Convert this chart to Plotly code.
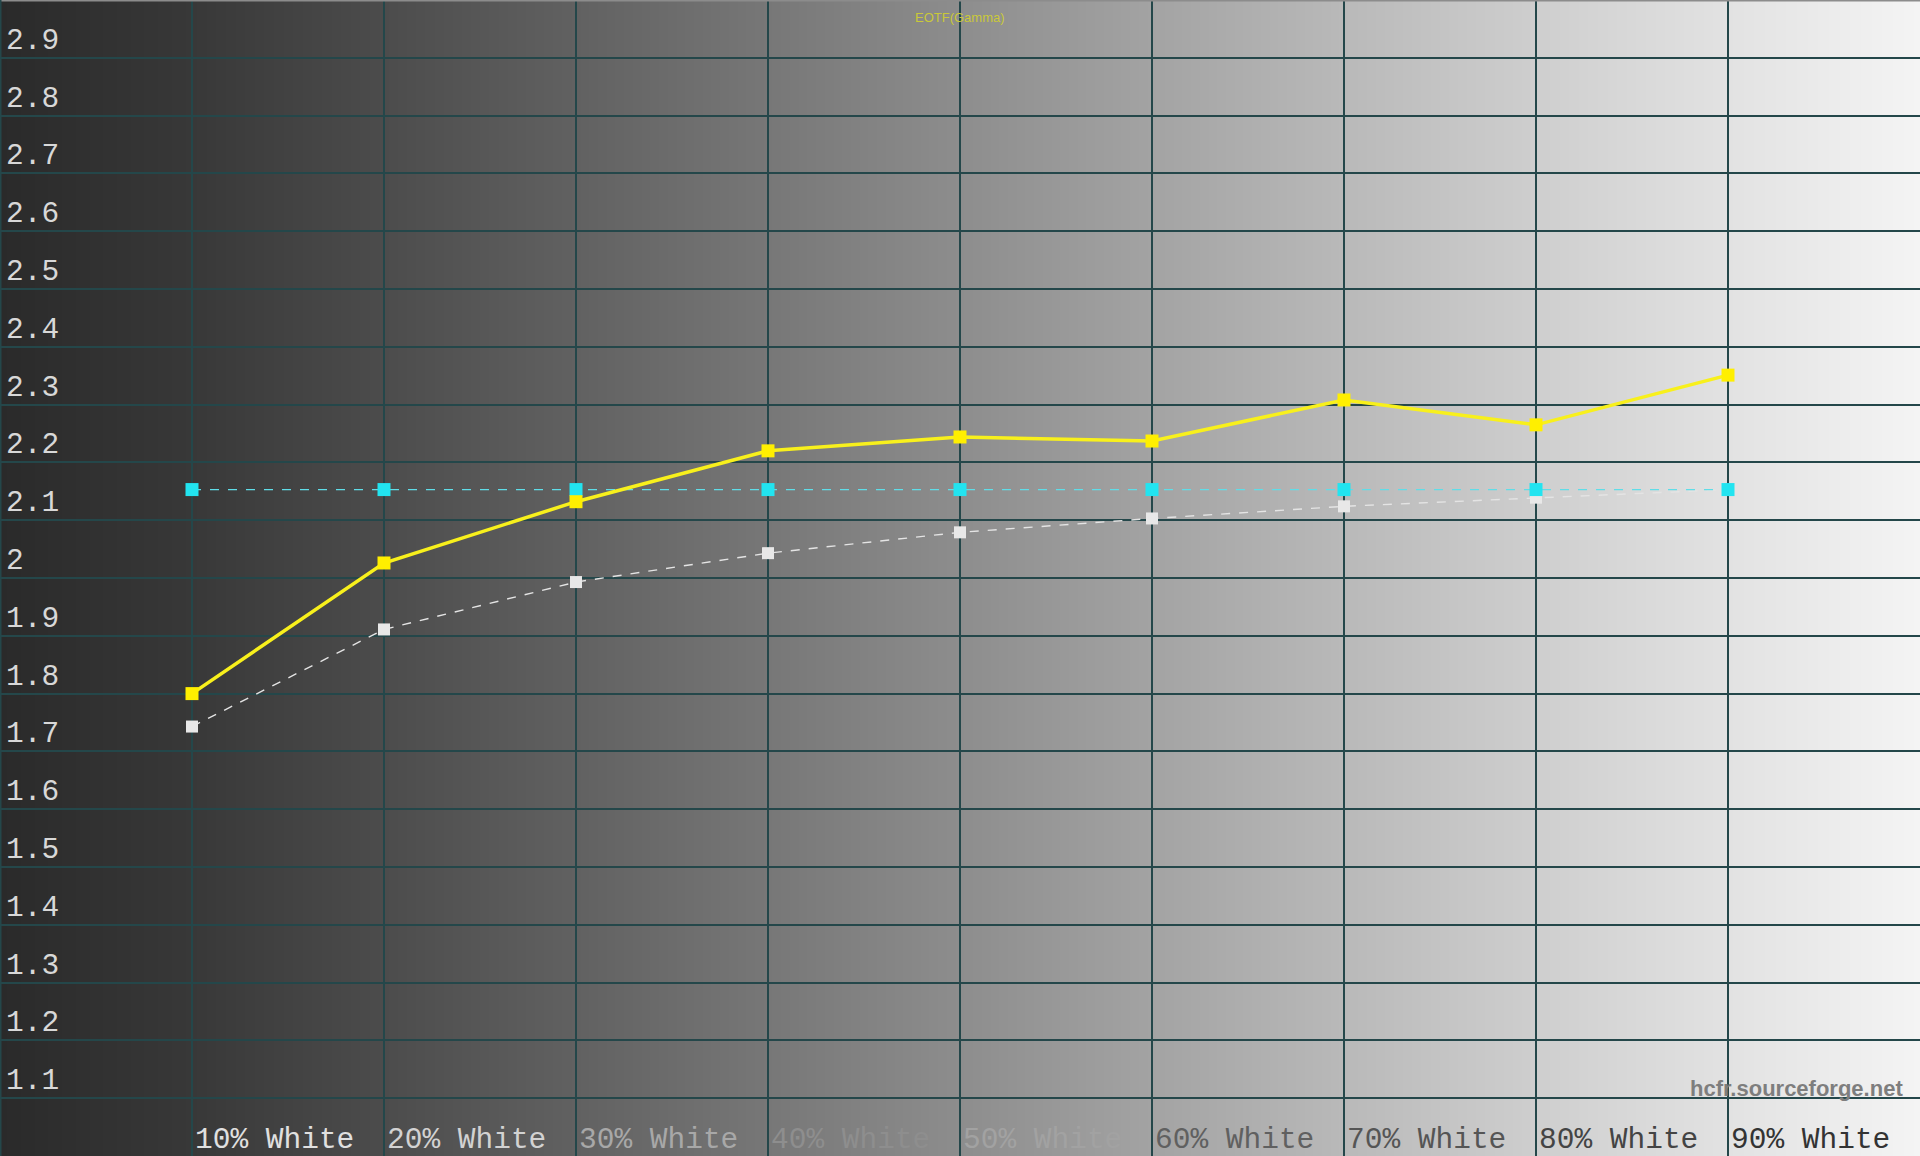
"""HCFR-style EOTF (gamma) chart rebuilt with Plotly."""
import base64
import struct
import zlib

import plotly.graph_objects as go

# data
steps = [10, 20, 30, 40, 50, 60, 70, 80, 90]
step_labels = ["10% White", "20% White", "30% White", "40% White", "50% White",
               "60% White", "70% White", "80% White", "90% White"]
gamma_measured = [1.800, 2.026, 2.132, 2.220, 2.244, 2.237, 2.308, 2.265, 2.351]
gamma_reference = [1.743, 1.911, 1.993, 2.043, 2.079, 2.103, 2.124, 2.139, 2.153]
gamma_target = [2.153] * 9

y_ticks = [2.9, 2.8, 2.7, 2.6, 2.5, 2.4, 2.3, 2.2, 2.1, 2.0,
           1.9, 1.8, 1.7, 1.6, 1.5, 1.4, 1.3, 1.2, 1.1]
y_tick_text = ["2.9", "2.8", "2.7", "2.6", "2.5", "2.4", "2.3", "2.2", "2.1", "2",
               "1.9", "1.8", "1.7", "1.6", "1.5", "1.4", "1.3", "1.2", "1.1"]

# background grey ramp (0%..100%) and label colours, picked by eye
bg_levels = [42, 56, 76, 97, 119, 141, 163, 185, 206, 226, 244]
label_colors = ["#e0e0e0", "#d2d2d2", "#a8a8a8", "#8e8e8e", "#a2a2a2",
                "#606060", "#555555", "#444444", "#333333"]

GRID = "#24474a"
MONO = "Liberation Mono, Courier New, monospace"


def _gradient_png(levels, width=1920):
    # one-row greyscale png, stretched over the plot as backdrop
    row = bytearray([0])
    n = len(levels) - 1
    for px in range(width):
        t = px / (width - 1) * n
        i = min(int(t), n - 1)
        f = t - i
        row.append(int(round(levels[i] + (levels[i + 1] - levels[i]) * f)))

    def chunk(tag, data):
        c = struct.pack(">I", len(data)) + tag + data
        return c + struct.pack(">I", zlib.crc32(tag + data) & 0xFFFFFFFF)

    png = b"\x89PNG\r\n\x1a\n"
    png += chunk(b"IHDR", struct.pack(">IIBBBBB", width, 1, 8, 0, 0, 0, 0))
    png += chunk(b"IDAT", zlib.compress(bytes(row)))
    png += chunk(b"IEND", b"")
    return "data:image/png;base64," + base64.b64encode(png).decode()


fig = go.Figure()

fig.add_trace(
    go.Scatter(
        x=steps, y=gamma_reference, mode="lines+markers", name="Reference",
        line=dict(color="#e4e4e4", width=1.4, dash="dash"),
        marker=dict(symbol="square", size=12, color="#e8e8e8"),
    )
)
fig.add_trace(
    go.Scatter(
        x=steps, y=gamma_target, mode="lines+markers", name="Target",
        line=dict(color="#5fdde8", width=1.2, dash="dash"),
        marker=dict(symbol="square", size=13, color="#22e4f0"),
    )
)
fig.add_trace(
    go.Scatter(
        x=steps, y=gamma_measured, mode="lines+markers", name="Gamma",
        line=dict(color="#f8f01c", width=3.5),
        marker=dict(symbol="square", size=13, color="#ffef00"),
    )
)

annotations = []
for v, t in zip(y_ticks, y_tick_text):
    annotations.append(dict(
        x=0, y=v, xref="x", yref="y", text=t, showarrow=False,
        xanchor="left", yanchor="middle", xshift=4, yshift=17,
        font=dict(family=MONO, size=29.5, color="#d8d8d8"),
    ))
for s, t, c in zip(steps, step_labels, label_colors):
    annotations.append(dict(
        x=s, y=1.027, xref="x", yref="y", text=t, showarrow=False,
        xanchor="left", yanchor="middle", xshift=1,
        font=dict(family=MONO, size=29.5, color=c),
    ))
annotations.append(dict(
    x=50, y=2.97, xref="x", yref="y", text="EOTF(Gamma)", showarrow=False,
    xanchor="center", yanchor="middle",
    font=dict(family="Liberation Sans, Arial", size=13, color="#c9c83a"),
))
annotations.append(dict(
    x=99.2, y=1.1, xref="x", yref="y", text="<b>hcfr.sourceforge.net</b>", showarrow=False,
    xanchor="right", yanchor="bottom", yshift=-5,
    font=dict(family="Liberation Sans, Arial", size=22, color="#7e7e7e"),
))

fig.update_layout(
    width=1920,
    height=1156,
    margin=dict(l=0, r=0, t=0, b=0),
    paper_bgcolor="#2c2c2c",
    plot_bgcolor="#2c2c2c",
    showlegend=False,
    annotations=annotations,
    images=[dict(
        source=_gradient_png(bg_levels), xref="x", yref="y",
        x=0, y=3, sizex=100, sizey=2, sizing="stretch",
        xanchor="left", yanchor="top", layer="below",
    )],
    shapes=[
        dict(type="line", xref="paper", yref="paper", x0=0, x1=1, y0=1, y1=1,
             line=dict(color="#8c8c8c", width=3)),
        dict(type="line", xref="paper", yref="paper", x0=0, x1=0, y0=0, y1=1,
             line=dict(color=GRID, width=3)),
    ],
)
fig.update_xaxes(
    range=[0, 100], tick0=0, dtick=10, showticklabels=False,
    showgrid=True, gridcolor=GRID, gridwidth=2, zeroline=False, fixedrange=True,
)
fig.update_yaxes(
    range=[1, 3], tick0=1, dtick=0.1, showticklabels=False,
    showgrid=True, gridcolor=GRID, gridwidth=2, zeroline=False, fixedrange=True,
)

fig.write_html("out.html", config={"displayModeBar": False},
               post_script="document.body.style.margin='0';document.body.style.overflow='hidden';")
